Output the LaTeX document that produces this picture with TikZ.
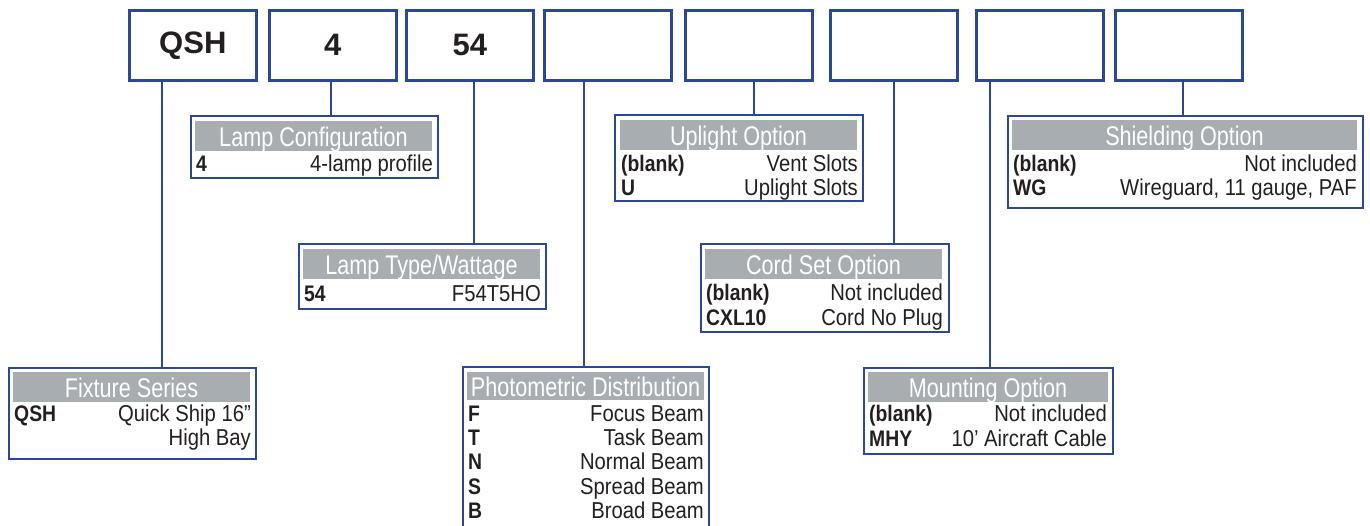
\documentclass[tikz,border=0pt]{standalone}
\usepackage{fontspec}
\setmainfont{Liberation Sans}
\newfontfamily\hdfont[FakeStretch=0.8]{Liberation Sans}
\newfontfamily\rowfont[FakeStretch=0.86]{Liberation Sans}
\newfontfamily\valfont[FakeStretch=0.88]{Liberation Sans}
\definecolor{bl}{RGB}{43,72,152}
\definecolor{hg}{RGB}{168,173,177}
\definecolor{tx}{RGB}{35,31,32}
\begin{document}
\begin{tikzpicture}[x=1pt,y=-1pt,
 codebox/.style={draw=bl, line width=2.6pt, minimum width=127pt, minimum height=70pt, inner sep=0pt, anchor=north west, font=\fontsize{31}{31}\selectfont\bfseries, text=tx},
 optbox/.style={draw=bl, line width=1.5pt, inner sep=0pt, anchor=north west},
 hdr/.style={fill=hg, inner sep=0pt, anchor=north west, minimum height=30pt},
 ttl/.style={anchor=base, inner sep=0pt, text=white, font=\hdfont\fontsize{27}{27}\selectfont},
 key/.style={anchor=base west, inner sep=0pt, text=tx, font=\rowfont\fontsize{22.5}{22.5}\selectfont\bfseries},
 val/.style={anchor=base east, inner sep=0pt, text=tx, font=\valfont\fontsize{23}{23}\selectfont},
 conn/.style={draw=bl, line width=2pt}]
\useasboundingbox (0,0) rectangle (1370,525);
\clip (0,0) rectangle (1370,525);
% top code boxes
\node[codebox] (t1) at (128,9) {QSH};
\node[codebox] (t2) at (268,9) {4};
\node[codebox] (t3) at (405,9) {54};
\node[codebox] (t4) at (543,9) {};
\node[codebox] (t5) at (684,9) {};
\node[codebox] (t6) at (829,9) {};
\node[codebox] (t7) at (975,9) {};
\node[codebox] (t8) at (1114,9) {};
% Lamp Configuration
\node[optbox, minimum width=247pt, minimum height=62pt] (lc) at (190,115) {};
\node[hdr, minimum width=237pt] (lch) at (195,121) {};
\node[ttl] (lct) at (313.5,146) {Lamp Configuration};
\node[key] (lck1) at (196,171) {4};
\node[val] (lcv1) at (433,171) {4-lamp profile};
% Lamp Type
\node[optbox, minimum width=247pt, minimum height=65pt] (lt) at (298,243) {};
\node[hdr, minimum width=237pt] (lth) at (303,249) {};
\node[ttl] (ltt) at (421.5,274) {Lamp Type/Wattage};
\node[key] (ltk1) at (304,301) {54};
\node[val] (ltv1) at (541,301) {F54T5HO};
% Fixture Series
\node[optbox, minimum width=247pt, minimum height=91pt] (fs) at (8,367) {};
\node[hdr, minimum width=237pt] (fsh) at (13,372) {};
\node[ttl] (fst) at (131.5,397) {Fixture Series};
\node[key] (fsk1) at (14,421) {QSH};
\node[val] (fsv1) at (251,421) {Quick Ship 16”};
\node[val] (fsv2) at (251,445) {High Bay};
% Photometric Distribution
\node[optbox, minimum width=246pt, minimum height=175pt] (pd) at (462,366) {};
\node[hdr, minimum width=237pt, minimum height=28pt] (pdh) at (467,372) {};
\node[ttl] (pdt) at (585.5,396) {Photometric Distribution};
\node[key] (pdk1) at (468,421) {F};
\node[val] (pdv1) at (704,421) {Focus Beam};
\node[key] (pdk2) at (468,445) {T};
\node[val] (pdv2) at (704,445) {Task Beam};
\node[key] (pdk3) at (468,469) {N};
\node[val] (pdv3) at (704,469) {Normal Beam};
\node[key] (pdk4) at (468,494) {S};
\node[val] (pdv4) at (704,494) {Spread Beam};
\node[key] (pdk5) at (468,518) {B};
\node[val] (pdv5) at (704,518) {Broad Beam};
% Uplight Option
\node[optbox, minimum width=248pt, minimum height=86pt] (uo) at (614,114) {};
\node[hdr, minimum width=237pt] (uoh) at (620,120) {};
\node[ttl] (uot) at (738.5,145) {Uplight Option};
\node[key] (uok1) at (621,171) {(blank)};
\node[val] (uov1) at (858,171) {Vent Slots};
\node[key] (uok2) at (621,195) {U};
\node[val] (uov2) at (858,195) {Uplight Slots};
% Cord Set Option
\node[optbox, minimum width=248pt, minimum height=88pt] (cs) at (700,243) {};
\node[hdr, minimum width=237pt] (csh) at (705,249) {};
\node[ttl] (cst) at (823.5,274) {Cord Set Option};
\node[key] (csk1) at (706,300) {(blank)};
\node[val] (csv1) at (943,300) {Not included};
\node[key] (csk2) at (706,325) {CXL10};
\node[val] (csv2) at (943,325) {Cord No Plug};
% Mounting Option
\node[optbox, minimum width=249pt, minimum height=86pt] (mo) at (863,367) {};
\node[hdr, minimum width=240pt] (moh) at (868,372) {};
\node[ttl] (mot) at (988,397) {Mounting Option};
\node[key] (mok1) at (869,421) {(blank)};
\node[val] (mov1) at (1107,421) {Not included};
\node[key] (mok2) at (869,446) {MHY};
\node[val] (mov2) at (1107,446) {10’ Aircraft Cable};
% Shielding Option
\node[optbox, minimum width=355pt, minimum height=92pt] (so) at (1007,115) {};
\node[hdr, minimum width=345pt] (soh) at (1012,120) {};
\node[ttl] (sot) at (1184.5,145) {Shielding Option};
\node[key] (sok1) at (1013,171) {(blank)};
\node[val] (sov1) at (1357,171) {Not included};
\node[key] (sok2) at (1013,195) {WG};
\node[val] (sov2) at (1357,195) {Wireguard, 11 gauge, PAF};
% connectors
\draw[conn] ([xshift=34pt]t1.south west) -- ([xshift=34pt]t1.south west |- fs.north);
\draw[conn] ([xshift=63pt]t2.south west) -- ([xshift=63pt]t2.south west |- lc.north);
\draw[conn] ([xshift=69pt]t3.south west) -- ([xshift=69pt]t3.south west |- lt.north);
\draw[conn] ([xshift=41pt]t4.south west) -- ([xshift=41pt]t4.south west |- pd.north);
\draw[conn] ([xshift=70pt]t5.south west) -- ([xshift=70pt]t5.south west |- uo.north);
\draw[conn] ([xshift=65pt]t6.south west) -- ([xshift=65pt]t6.south west |- cs.north);
\draw[conn] ([xshift=15pt]t7.south west) -- ([xshift=15pt]t7.south west |- mo.north);
\draw[conn] ([xshift=69pt]t8.south west) -- ([xshift=69pt]t8.south west |- so.north);
\end{tikzpicture}
\end{document}
